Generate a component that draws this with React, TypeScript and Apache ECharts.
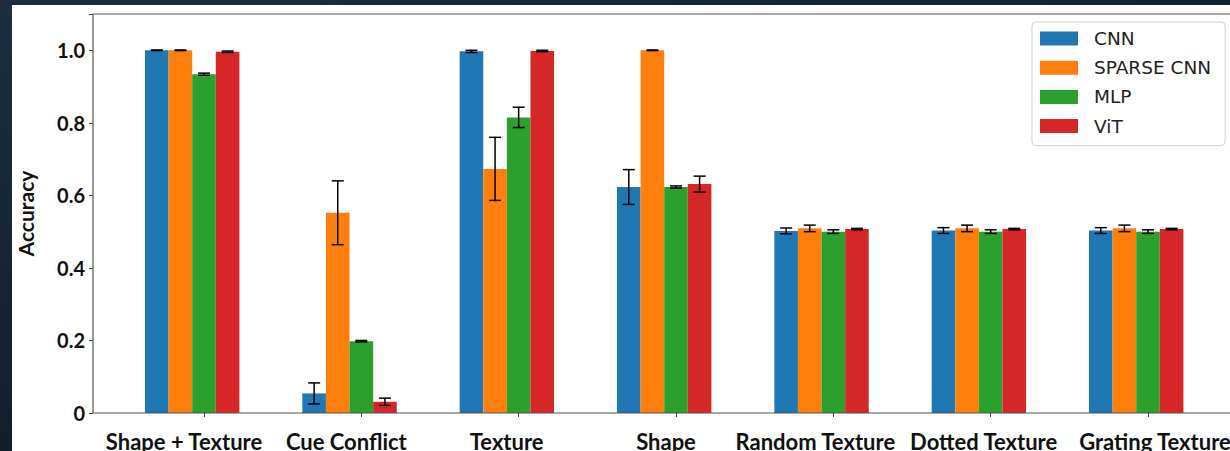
import React, { useEffect, useRef } from "react";
import * as echarts from "echarts";

const categories = [
  "Shape + Texture",
  "Cue Conflict",
  "Texture",
  "Shape",
  "Random Texture",
  "Dotted Texture",
  "Grating Texture",
];
const modelNames = ["CNN", "SPARSE CNN", "MLP", "ViT"];
const modelColors = ["#1f77b4", "#ff7f0e", "#2ca02c", "#d62728"];

const cnn = [1.0, 0.054, 0.997, 0.623, 0.502, 0.503, 0.503];
const cnnErr = [0.001, 0.029, 0.003, 0.048, 0.008, 0.008, 0.008];
const sparseCnn = [1.0, 0.552, 0.673, 1.0, 0.509, 0.509, 0.509];
const sparseCnnErr = [0.001, 0.088, 0.087, 0.001, 0.009, 0.009, 0.009];
const mlp = [0.934, 0.198, 0.815, 0.623, 0.5, 0.5, 0.5];
const mlpErr = [0.003, 0.002, 0.028, 0.003, 0.005, 0.005, 0.005];
const vit = [0.996, 0.031, 0.998, 0.631, 0.507, 0.507, 0.507];
const vitErr = [0.002, 0.01, 0.002, 0.022, 0.002, 0.002, 0.002];

const yTicks = [0, 0.2, 0.4, 0.6, 0.8, 1.0];

const values = [cnn, sparseCnn, mlp, vit];
const errors = [cnnErr, sparseCnnErr, mlpErr, vitErr];

// horizontal shift (px) of each category label relative to its tick
const labelShift = [-20, -15, -12, -10, -18, -7, 7];

const FONT = "Lato, 'Open Sans', sans-serif";

export default function App() {
  const ref = useRef<HTMLDivElement>(null);

  useEffect(() => {
    if (!ref.current) return;
    const chart = echarts.init(ref.current, null, { renderer: "svg" });

    const barSeries: any[] = values.map((vals, i) => ({
      name: modelNames[i],
      type: "bar",
      data: vals,
      barWidth: "15%",
      barGap: "0%",
      itemStyle: { color: modelColors[i] },
      z: 2,
    }));
    // empty slot so that the third bar sits on the category tick
    barSeries.push({
      name: "_slot",
      type: "bar",
      data: categories.map(() => null),
      barWidth: "15%",
      barGap: "0%",
    });

    const errSeries = values.map((vals, i) => ({
      name: modelNames[i] + " err",
      type: "custom",
      z: 5,
      data: vals.map((v, k) => [k, v, errors[i][k]]),
      encode: { x: 0, y: 1 },
      renderItem: (params: any, api: any) => {
        const cat = api.value(0);
        const v = api.value(1);
        const e = api.value(2);
        const band = api.size([1, 0])[0];
        const bw = band * 0.15;
        const cx = api.coord([cat, v])[0] + (i - 2) * bw;
        const yt = api.coord([cat, v + e])[1];
        const yb = api.coord([cat, v - e])[1];
        const cap = 6;
        const st = { stroke: "#000", lineWidth: 1.5 };
        return {
          type: "group",
          children: [
            { type: "line", shape: { x1: cx, y1: yt, x2: cx, y2: yb }, style: st },
            { type: "line", shape: { x1: cx - cap, y1: yt, x2: cx + cap, y2: yt }, style: st },
            { type: "line", shape: { x1: cx - cap, y1: yb, x2: cx + cap, y2: yb }, style: st },
          ],
        };
      },
    }));

    const labelRich: any = {};
    labelShift.forEach((d, k) => {
      labelRich["l" + k] = {
        fontFamily: FONT,
        fontWeight: 700,
        fontSize: 22,
        color: "#111",
        padding: d < 0 ? [0, -2 * d, 0, 0] : [0, 0, 0, 2 * d],
      };
    });

    chart.setOption({
      animation: false,
      backgroundColor: "#ffffff",
      grid: {
        left: 113.33,
        right: 3.33,
        top: 9,
        bottom: 38,
        containLabel: false,
        outerBoundsMode: "none",
      },
      legend: {
        data: modelNames,
        orient: "vertical",
        left: 1020,
        top: 17,
        itemWidth: 38,
        itemHeight: 14,
        itemGap: 10.2,
        icon: "rect",
        selectedMode: false,
        padding: [7, 14, 10, 8],
        backgroundColor: "rgba(255,255,255,0.85)",
        borderColor: "#d0d0d0",
        borderWidth: 1,
        borderRadius: 4,
        textStyle: {
          fontFamily: "'DejaVu Sans', sans-serif",
          fontSize: 18.5,
          lineHeight: 18,
          color: "#222",
          padding: [0, 0, 0, 11],
        },
      },
      xAxis: {
        type: "category",
        data: categories,
        axisLine: { show: false },
        axisTick: { show: true, alignWithLabel: true, length: 4, lineStyle: { color: "#444" } },
        axisLabel: {
          interval: 0,
          margin: 17,
          fontFamily: FONT,
          fontWeight: 700,
          fontSize: 22,
          color: "#111",
          formatter: (v: string, idx: number) => `{l${idx}|${v}}`,
          rich: labelRich,
        },
        splitLine: { show: false },
      },
      yAxis: {
        type: "value",
        min: 0,
        max: 1.1,
        interval: 0.2,
        offset: 32.33,
        name: "Accuracy",
        nameLocation: "middle",
        nameRotate: 90,
        nameGap: 58,
        nameTextStyle: {
          fontFamily: FONT,
          fontWeight: 700,
          fontSize: 21,
          lineHeight: 20,
          color: "#111",
        },
        axisLine: { show: false },
        axisTick: { show: true, length: 4, lineStyle: { color: "#444" } },
        splitLine: { show: false },
        axisLabel: {
          margin: 8,
          fontFamily: FONT,
          fontWeight: 700,
          fontSize: 20,
          color: "#111",
          formatter: (v: number) => {
            const t = yTicks.find((x) => Math.abs(x - v) < 1e-6);
            if (t === undefined) return "";
            return t === 0 ? "0" : t.toFixed(1);
          },
        },
      },
      graphic: [
        {
          type: "rect",
          z: 10,
          silent: true,
          shape: { x: 81, y: 9, width: 1200, height: 399 },
          style: { fill: "none", stroke: "#555", lineWidth: 1.2 },
        },
      ],
      series: [...barSeries, ...errSeries],
    });

    return () => chart.dispose();
  }, []);

  return (
    <div
      style={{
        position: "fixed",
        left: 0,
        top: 0,
        width: 1230,
        height: 451,
        background: "linear-gradient(165deg, #1c2d3f 0%, #14212e 50%, #0d161f 100%)",
        overflow: "hidden",
      }}
    >
      <div
        ref={ref}
        style={{ position: "absolute", left: 12, top: 5, width: 1218, height: 446, background: "#fff" }}
      />
    </div>
  );
}
